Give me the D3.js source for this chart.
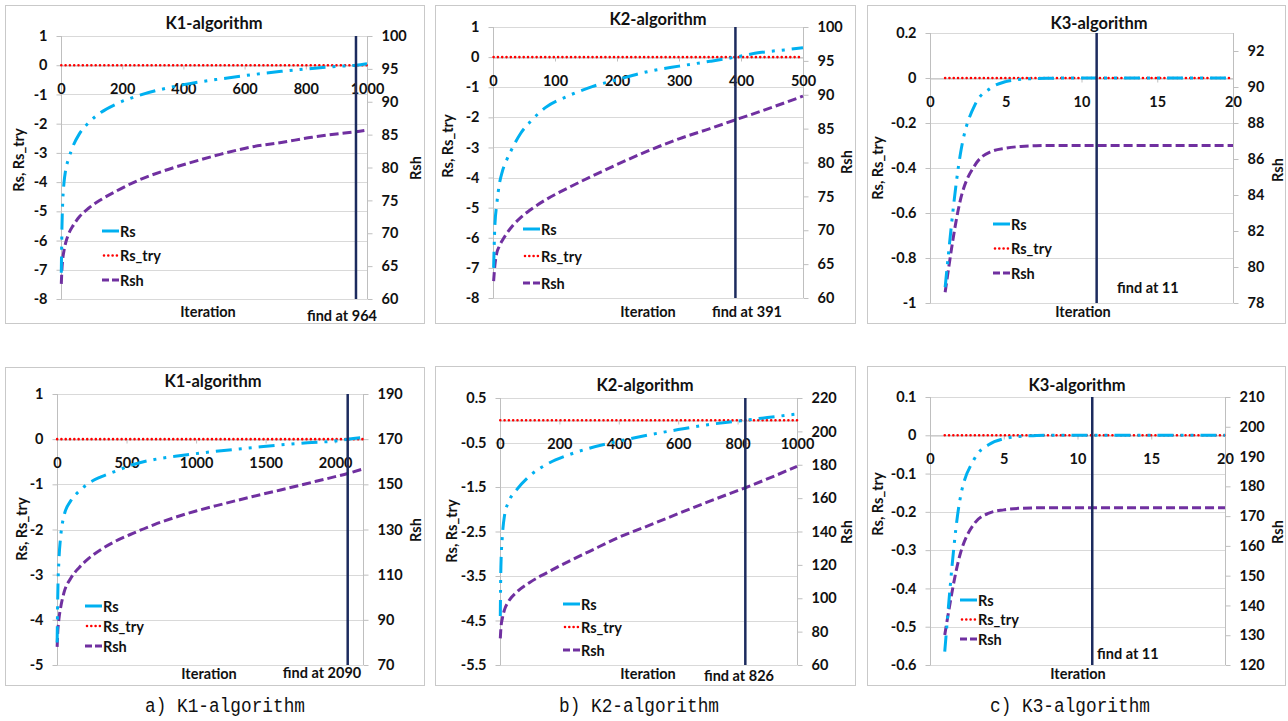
<!DOCTYPE html>
<html>
<head>
<meta charset="utf-8">
<script src="https://cdn.jsdelivr.net/npm/d3@7"></script>
<style>
  body { margin: 0; background: #fff; }
  svg { display: block; }
</style>
</head>
<body>
<svg id="chart" width="1288" height="721"></svg>
<script>
// ---------------- data ----------------
// K1-algorithm, first case
const k1aIter  = [1, 3, 6, 10, 15, 25, 40, 60, 90, 130, 180, 250, 330, 420, 520, 620, 720, 820, 900, 964, 1000];
const k1aRs    = [-7.1, -5.6, -4.6, -4.0, -3.6, -3.2, -2.75, -2.35, -1.97, -1.62, -1.33, -1.05, -0.82, -0.63, -0.47, -0.33, -0.21, -0.11, -0.04, 0.0, 0.05];
const k1aRsTry = [0, 0, 0, 0, 0, 0, 0, 0, 0, 0, 0, 0, 0, 0, 0, 0, 0, 0, 0, 0, 0];
const k1aRsh   = [62.3, 64.5, 66.2, 67.4, 68.5, 69.9, 71.2, 72.5, 73.8, 75.1, 76.4, 78.0, 79.4, 80.7, 82.0, 83.1, 83.8, 84.6, 85.1, 85.45, 85.7];
const k1aFind  = 964;

// K2-algorithm, first case
const k2aIter  = [1, 3, 6, 10, 15, 22, 32, 45, 60, 85, 120, 160, 200, 250, 300, 350, 391, 430, 470, 500];
const k2aRs    = [-7.0, -5.6, -4.9, -4.25, -3.8, -3.42, -2.99, -2.52, -2.15, -1.67, -1.3, -0.98, -0.75, -0.48, -0.3, -0.14, 0.0, 0.15, 0.24, 0.31];
const k2aRsTry = [0, 0, 0, 0, 0, 0, 0, 0, 0, 0, 0, 0, 0, 0, 0, 0, 0, 0, 0, 0];
const k2aRsh   = [62.5, 64.8, 66.6, 67.6, 68.5, 69.5, 70.7, 71.9, 73.0, 74.5, 76.2, 78.0, 79.7, 81.7, 83.5, 85.0, 86.3, 87.5, 88.8, 89.8];
const k2aFind  = 391;

// K3-algorithm, first case
const k3aIter  = [1, 2, 3, 4, 5, 6, 7, 8, 9, 10, 11, 12, 13, 14, 15, 16, 17, 18, 19, 20];
const k3aRs    = [-0.93, -0.34, -0.115, -0.045, -0.016, -0.006, -0.002, -0.001, 0, 0, 0, 0, 0, 0, 0, 0, 0, 0, 0, 0];
const k3aRsTry = [0, 0, 0, 0, 0, 0, 0, 0, 0, 0, 0, 0, 0, 0, 0, 0, 0, 0, 0, 0];
const k3aRsh   = [78.6, 83.7, 85.7, 86.4, 86.6, 86.7, 86.74, 86.75, 86.75, 86.75, 86.75, 86.75, 86.75, 86.75, 86.75, 86.75, 86.75, 86.75, 86.75, 86.75];
const k3aFind  = 11;

// K1-algorithm, second case
const k1bIter  = [1, 5, 14, 25, 50, 100, 160, 230, 320, 420, 550, 700, 850, 1000, 1200, 1400, 1600, 1800, 2000, 2090, 2200];
const k1bRs    = [-4.5, -3.55, -2.67, -2.2, -1.7, -1.36, -1.15, -0.97, -0.83, -0.71, -0.56, -0.45, -0.38, -0.32, -0.25, -0.19, -0.13, -0.08, -0.04, 0.0, 0.04];
const k1bRsTry = [0, 0, 0, 0, 0, 0, 0, 0, 0, 0, 0, 0, 0, 0, 0, 0, 0, 0, 0, 0, 0];
const k1bRsh   = [78, 84, 90.5, 95, 102, 108.5, 113.2, 117.3, 121.3, 124.8, 128.4, 132.2, 135.4, 138.2, 141.4, 144.5, 147.4, 150.4, 153.4, 154.8, 156.8];
const k1bFind  = 2090;

// K2-algorithm, second case
const k2bIter  = [1, 3, 8, 15, 30, 55, 100, 160, 230, 300, 400, 500, 600, 700, 800, 826, 900, 1000];
const k2bRs    = [-4.4, -3.3, -2.6, -2.15, -1.82, -1.57, -1.25, -0.98, -0.78, -0.63, -0.47, -0.33, -0.21, -0.1, -0.02, 0.0, 0.06, 0.14];
const k2bRsTry = [0, 0, 0, 0, 0, 0, 0, 0, 0, 0, 0, 0, 0, 0, 0, 0, 0, 0];
const k2bRsh   = [76, 82, 88, 93, 98.5, 103.5, 109.5, 115.5, 122, 128, 136.5, 143.5, 150.7, 157.7, 164.5, 166.2, 171.5, 179];
const k2bFind  = 826;

// K3-algorithm, second case
const k3bIter  = [1, 2, 3, 4, 5, 6, 7, 8, 9, 10, 11, 12, 13, 14, 15, 16, 17, 18, 19, 20];
const k3bRs    = [-0.565, -0.175, -0.062, -0.024, -0.009, -0.003, -0.001, 0, 0, 0, 0, 0, 0, 0, 0, 0, 0, 0, 0, 0];
const k3bRsTry = [0, 0, 0, 0, 0, 0, 0, 0, 0, 0, 0, 0, 0, 0, 0, 0, 0, 0, 0, 0];
const k3bRsh   = [130.1, 156.4, 167.5, 171.0, 172.1, 172.6, 172.75, 172.8, 172.8, 172.8, 172.8, 172.8, 172.8, 172.8, 172.8, 172.8, 172.8, 172.8, 172.8, 172.8];
const k3bFind  = 11;

// axis tick values
const k1aXTicks = [0, 200, 400, 600, 800, 1000];
const k2aXTicks = [0, 100, 200, 300, 400, 500];
const k3XTicks  = [0, 5, 10, 15, 20];
const k1bXTicks = [0, 500, 1000, 1500, 2000];
const k2bXTicks = [0, 200, 400, 600, 800, 1000];

const leftTicksA  = [1, 0, -1, -2, -3, -4, -5, -6, -7, -8];
const leftTicksK3a = [0.2, 0, -0.2, -0.4, -0.6, -0.8, -1];
const leftTicksK1b = [1, 0, -1, -2, -3, -4, -5];
const leftTicksK2b = [0.5, -0.5, -1.5, -2.5, -3.5, -4.5, -5.5];
const leftTicksK3b = [0.1, 0, -0.1, -0.2, -0.3, -0.4, -0.5, -0.6];

const rightTicksA   = [60, 65, 70, 75, 80, 85, 90, 95, 100];
const rightTicksK3a = [78, 80, 82, 84, 86, 88, 90, 92];
const rightTicksK1b = [70, 90, 110, 130, 150, 170, 190];
const rightTicksK2b = [60, 80, 100, 120, 140, 160, 180, 200, 220];
const rightTicksK3b = [120, 130, 140, 150, 160, 170, 180, 190, 200, 210];

const seriesNames = ["Rs", "Rs_try", "Rsh"];
const captions = ["a) K1-algorithm", "b) K2-algorithm", "c) K3-algorithm"];

// ---------------- styles ----------------
const FONT = "Lato, 'Open Sans', sans-serif";
const COL_RS = "#00b0f0", COL_TRY = "#ff0000", COL_RSH = "#7030a0", COL_FIND = "#1c2b5e";
const GRID = "#d9d9d9", AXIS = "#bfbfbf";

// ---------------- panel layout ----------------
const panels = [
  { title: "K1-algorithm", iter: k1aIter, rs: k1aRs, rsTry: k1aRsTry, rsh: k1aRsh, find: k1aFind,
    xMax: 1000, xTicks: k1aXTicks, yL: [-8, 1], yLTicks: leftTicksA, yR: [60, 100], yRTicks: rightTicksA,
    frame: [5, 5, 419, 318], plot: [61, 36, 367, 299],
    titleAt: [214, 23], yLabAt: [18, 160], rLabAt: [415, 168], iterAt: [208, 311],
    findAt: [342, 315, "middle"], legend: [102, 231, 24.5] },
  { title: "K2-algorithm", iter: k2aIter, rs: k2aRs, rsTry: k2aRsTry, rsh: k2aRsh, find: k2aFind,
    xMax: 500, xTicks: k2aXTicks, yL: [-8, 1], yLTicks: leftTicksA, yR: [60, 100], yRTicks: rightTicksA,
    frame: [435, 5, 420, 318], plot: [493, 27, 803, 298],
    titleAt: [658, 19], yLabAt: [447, 146], rLabAt: [846, 162], iterAt: [648, 311],
    findAt: [747, 311, "middle"], legend: [523, 229, 27] },
  { title: "K3-algorithm", iter: k3aIter, rs: k3aRs, rsTry: k3aRsTry, rsh: k3aRsh, find: k3aFind,
    xMax: 20, xTicks: k3XTicks, yL: [-1, 0.2], yLTicks: leftTicksK3a, yR: [78, 93], yRTicks: rightTicksK3a,
    frame: [867, 5, 418, 318], plot: [930, 33, 1233, 303],
    titleAt: [1099, 23], yLabAt: [877, 168], rLabAt: [1277, 170], iterAt: [1083, 311],
    findAt: [1117, 287, "start"], legend: [993, 224, 24.5] },
  { title: "K1-algorithm", iter: k1bIter, rs: k1bRs, rsTry: k1bRsTry, rsh: k1bRsh, find: k1bFind,
    xMax: 2200, xTicks: k1bXTicks, yL: [-5, 1], yLTicks: leftTicksK1b, yR: [70, 190], yRTicks: rightTicksK1b,
    frame: [5, 367, 419, 318], plot: [57, 394, 363, 665],
    titleAt: [213, 381], yLabAt: [21, 529], rLabAt: [415, 530], iterAt: [209, 673],
    findAt: [322, 672, "middle"], legend: [85, 606, 20] },
  { title: "K2-algorithm", iter: k2bIter, rs: k2bRs, rsTry: k2bRsTry, rsh: k2bRsh, find: k2bFind,
    xMax: 1000, xTicks: k2bXTicks, yL: [-5.5, 0.5], yLTicks: leftTicksK2b, yR: [60, 220], yRTicks: rightTicksK2b,
    frame: [435, 366, 420, 319], plot: [500, 398, 797, 665],
    titleAt: [645, 385], yLabAt: [451, 531], rLabAt: [846, 532], iterAt: [648, 673],
    findAt: [739, 675, "middle"], legend: [563, 604, 23] },
  { title: "K3-algorithm", iter: k3bIter, rs: k3bRs, rsTry: k3bRsTry, rsh: k3bRsh, find: k3bFind,
    xMax: 20, xTicks: k3XTicks, yL: [-0.6, 0.1], yLTicks: leftTicksK3b, yR: [120, 210], yRTicks: rightTicksK3b,
    frame: [867, 366, 418, 319], plot: [930, 397, 1225, 665],
    titleAt: [1077, 385], yLabAt: [877, 504], rLabAt: [1277, 532], iterAt: [1078, 673],
    findAt: [1097, 653, "start"], legend: [960, 600, 19.5] }
];

const captionAt = [[225, 712], [639, 712], [1070, 712]];

// ---------------- drawing ----------------
const svg = d3.select("#chart");
const fmt = v => String(+v.toFixed(3)).replace("\u2212", "-");

const styleRs  = s => s.attr("stroke", COL_RS).attr("stroke-width", 3).attr("stroke-dasharray", "16,7,3,7,3,7");
const styleTry = s => s.attr("stroke", COL_TRY).attr("stroke-width", 2.6).attr("stroke-linecap", "round").attr("stroke-dasharray", "0,4.3");
const styleRsh = s => s.attr("stroke", COL_RSH).attr("stroke-width", 3).attr("stroke-dasharray", "9,4");

panels.forEach((p, pi) => {
  const g = svg.append("g");
  const [fx, fy, fw, fh] = p.frame;
  const [L, T, R, B] = p.plot;

  g.append("rect").attr("x", fx + 0.5).attr("y", fy + 0.5).attr("width", fw).attr("height", fh)
    .attr("fill", "#fff").attr("stroke", "#c9c9c9").attr("stroke-width", 1);

  const x = d3.scaleLinear().domain([0, p.xMax]).range([L, R]);
  const yL = d3.scaleLinear().domain(p.yL).range([B, T]);
  const yR = d3.scaleLinear().domain(p.yR).range([B, T]);

  // horizontal gridlines
  g.append("g").selectAll("line").data(p.yLTicks).join("line")
    .attr("x1", L).attr("x2", R)
    .attr("y1", d => Math.round(yL(d)) + 0.5).attr("y2", d => Math.round(yL(d)) + 0.5)
    .attr("stroke", GRID).attr("stroke-width", 1);

  // left value axis
  const leftAxis = d3.axisLeft(yL).tickValues(p.yLTicks).tickSize(5).tickPadding(9).tickFormat(fmt);
  const la = g.append("g").attr("transform", `translate(${Math.round(L) + 0.5},0)`).call(leftAxis);
  // right value axis
  const rightAxis = d3.axisRight(yR).tickValues(p.yRTicks).tickSize(5).tickPadding(9).tickFormat(fmt);
  const ra = g.append("g").attr("transform", `translate(${Math.round(R) + 0.5},0)`).call(rightAxis);
  // category axis crossing at zero
  const bottomAxis = d3.axisBottom(x).tickValues(p.xTicks).tickSize(4).tickPadding(14).tickFormat(fmt);
  const xa = g.append("g").attr("transform", `translate(0,${Math.round(yL(0)) + 0.5})`).call(bottomAxis);

  [la, ra, xa].forEach(a => {
    a.select(".domain").attr("stroke", AXIS);
    a.selectAll(".tick line").attr("stroke", AXIS);
    a.selectAll("text").attr("font-family", FONT).attr("font-size", 14.5).attr("font-weight", "bold").attr("fill", "#111");
  });
  ra.select(".domain").attr("d", `M0,${yR.range()[0]}V${yR.range()[1]}`);
  la.select(".domain").attr("d", `M0,${yL.range()[0]}V${yL.range()[1]}`);

  // series
  const pts = vals => p.iter.map((it, i) => [it, vals[i]]);
  const lineL = d3.line().x(d => x(d[0])).y(d => yL(d[1])).curve(d3.curveMonotoneX);
  const lineR = d3.line().x(d => x(d[0])).y(d => yR(d[1])).curve(d3.curveMonotoneX);

  g.append("path").attr("d", lineR(pts(p.rsh))).attr("fill", "none").call(styleRsh);
  g.append("path").attr("d", lineL(pts(p.rsTry))).attr("fill", "none").call(styleTry);
  g.append("path").attr("d", lineL(pts(p.rs))).attr("fill", "none").call(styleRs);

  // marker for the iteration where the solution is found
  g.append("line").attr("x1", x(p.find)).attr("x2", x(p.find)).attr("y1", T).attr("y2", B)
    .attr("stroke", COL_FIND).attr("stroke-width", 2.5);

  const txt = (pos, s, size, anchor, rot) => {
    const t = g.append("text").text(s)
      .attr("font-family", FONT).attr("font-size", size).attr("font-weight", "bold")
      .attr("fill", "#111").attr("text-anchor", anchor || "middle").attr("dominant-baseline", "central");
    if (rot) t.attr("transform", `translate(${pos[0]},${pos[1]}) rotate(${rot})`);
    else t.attr("x", pos[0]).attr("y", pos[1]);
    return t;
  };

  txt(p.titleAt, p.title, 16.5);
  txt(p.yLabAt, "Rs, Rs_try", 14.5, "middle", -90);
  txt(p.rLabAt, "Rsh", 14.5, "middle", -90);
  txt(p.iterAt, "Iteration", 14.5);
  txt([p.findAt[0], p.findAt[1]], "find at " + p.find, 14.5, p.findAt[2]);

  // legend
  const [lx, ly, ldy] = p.legend;
  const styles = [styleRs, styleTry, styleRsh];
  seriesNames.forEach((name, i) => {
    const yy = ly + i * ldy;
    const sample = g.append("line").attr("x1", lx).attr("x2", lx + 17).attr("y1", yy).attr("y2", yy).call(styles[i]);
    if (i === 0) sample.attr("stroke-dasharray", null);
    if (i === 2) sample.attr("stroke-dasharray", "7,3");
    if (i === 1) sample.attr("x1", lx + 2).attr("x2", lx + 16);
    txt([lx + 18, yy], name, 14.5, "start");
  });
});

// sub-figure captions
svg.append("g").selectAll("text").data(captions).join("text")
  .attr("x", (d, i) => captionAt[i][0]).attr("y", (d, i) => captionAt[i][1])
  .attr("text-anchor", "middle")
  .attr("font-family", "'Liberation Mono', 'DejaVu Sans Mono', monospace")
  .attr("font-size", 19.5)
  .attr("textLength", 160).attr("lengthAdjust", "spacingAndGlyphs")
  .attr("fill", "#111")
  .text(d => d);
</script>
</body>
</html>
